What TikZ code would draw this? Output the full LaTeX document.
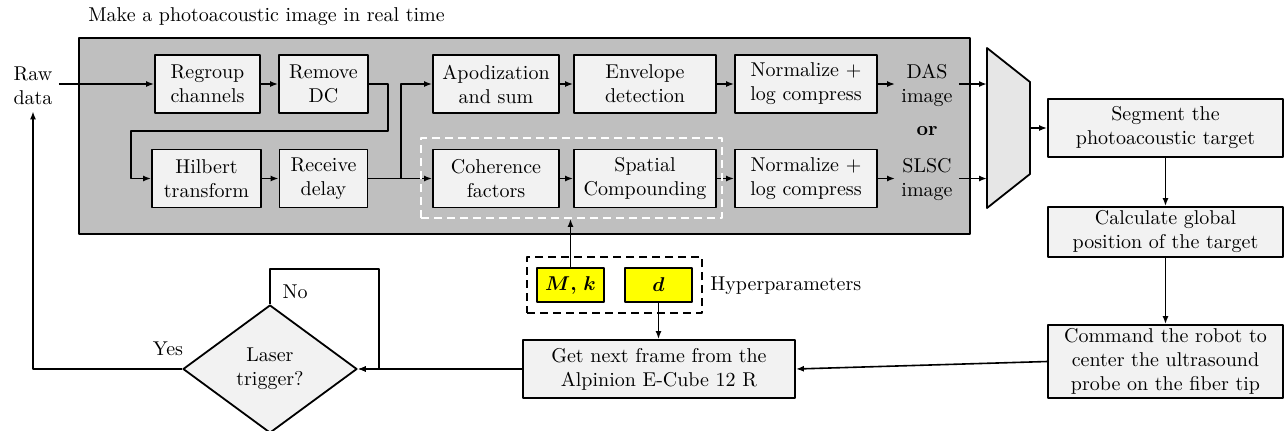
\documentclass[tikz,border=0pt]{standalone}
\usepackage{bm}
\usetikzlibrary{arrows.meta,shapes.geometric}
\newcommand{\Unit}{0.5pt}
\definecolor{panel}{HTML}{BFBFBF}
\definecolor{boxfill}{HTML}{F2F2F2}
\definecolor{muxfill}{HTML}{E6E6E6}
\definecolor{param}{HTML}{FFFF00}

\begin{document}
\begin{tikzpicture}[x=\Unit,y=-\Unit, line join=round,
  block/.style={draw, line width=0.9pt, fill=boxfill, align=center, inner sep=0pt, minimum height=58*\Unit},
  arr/.style={line width=0.8pt, -{Latex[length=4pt,width=3pt]}},
  label/.style={align=center, inner sep=3pt},
  hyperbox/.style={draw, line width=0.9pt, fill=param, inner sep=0pt, minimum width=67*\Unit, minimum height=34*\Unit}]

  \useasboundingbox (0,0) rectangle (1284,430);

  % ---- the real time panel ------------------------------------------------
  \filldraw[fill=panel, line width=0.9pt] (79,38) rectangle (970,234);
  \node[anchor=west, inner sep=0pt] (title) at (88,17) {Make a photoacoustic image in real time};
  \node[label] (raw) at (33,86) {Raw\\data};

  \node[block, minimum width=105*\Unit] (regroup) at (207.5,84) {Regroup\\channels};
  \node[block, minimum width=89*\Unit] (removedc) at (323.5,84) {Remove\\DC};
  \node[block, minimum width=109*\Unit] (hilbert) at (206.5,178.5) {Hilbert\\transform};
  \node[block, minimum width=88*\Unit] (delay) at (323.5,178.5) {Receive\\delay};

  \node[block, minimum width=126*\Unit] (apod) at (496,84) {Apodization\\and sum};
  \node[block, minimum width=142*\Unit] (envelope) at (645,84) {Envelope\\detection};
  \node[block, minimum width=142*\Unit] (normdas) at (806,84) {Normalize $+$\\log compress};
  \node[block, minimum width=126*\Unit] (coher) at (496,178.5) {Coherence\\factors};
  \node[block, minimum width=142*\Unit] (spatial) at (645,178.5) {Spatial\\Compounding};
  \node[block, minimum width=142*\Unit] (normslsc) at (806,178.5) {Normalize $+$\\log compress};

  \node[label] (das) at (927,85) {DAS\\image};
  \node[label, font=\bfseries] (or) at (927,131) {or};
  \node[label] (slsc) at (927,180) {SLSC\\image};

  \coordinate (bendr) at (388,131);
  \coordinate (bendl) at (131,131);
  \coordinate (split) at (401,178.5);

  \draw[arr] (raw.east |- regroup.west) -- (regroup.west);
  \draw[arr] (regroup.east) -- (removedc.west);
  \draw[arr] (removedc.east) -| (bendr) -- (bendl) |- (hilbert.west);
  \draw[arr] (hilbert.east) -- (delay.west);
  \draw[arr] (delay.east) -- (coher.west);
  \draw[arr] (split) |- (apod.west);
  \draw[arr] (apod.east) -- (envelope.west);
  \draw[arr] (envelope.east) -- (normdas.west);
  \draw[arr] (coher.east) -- (spatial.west);
  \draw[arr] (spatial.east) -- (normslsc.west);
  \draw[arr] (normdas.east) -- (normdas.east -| das.west);
  \draw[arr] (normslsc.east) -- (normslsc.east -| slsc.west);

  % the coherence part, tuned by the hyperparameters
  \node[draw=white, line width=0.9pt, dash pattern=on 4pt off 2.5pt, inner sep=0pt,
        minimum width=301*\Unit, minimum height=80*\Unit] (cfbox) at (571.5,178) {};

  % ---- selector --------------------------------------------------------------
  \coordinate (muxa) at (987,48);
  \coordinate (muxb) at (1030,82);
  \coordinate (muxc) at (1030,174);
  \coordinate (muxd) at (987,208);
  \coordinate (muxout) at (1030,128);
  \filldraw[fill=muxfill, line width=0.9pt] (muxa) -- (muxb) -- (muxc) -- (muxd) -- cycle;
  \draw[arr] (das.east |- normdas.east) -- (normdas.east -| muxa);
  \draw[arr] (slsc.east |- normslsc.east) -- (normslsc.east -| muxa);

  % ---- robot side --------------------------------------------------------------
  \node[block, minimum width=235*\Unit] (segment) at (1165.5,128) {Segment the\\photoacoustic target};
  \node[block, minimum width=235*\Unit, minimum height=50*\Unit] (calc) at (1165.5,232) {Calculate global\\position of the target};
  \node[block, minimum width=235*\Unit, minimum height=73*\Unit] (command) at (1165.5,361.5) {Command the robot to\\center the ultrasound\\probe on the fiber tip};
  \draw[arr] (muxout) -- (segment.west);
  \draw[arr] (segment.south) -- (calc.north);
  \draw[arr] (calc.south) -- (command.north);

  % ---- acquisition loop ----------------------------------------------------------
  \node[draw, line width=1.1pt, dash pattern=on 4pt off 2.5pt, inner sep=0pt,
        minimum width=175*\Unit, minimum height=56*\Unit] (hyper) at (614.5,285) {};
  \node[hyperbox] (mk) at (570.5,285) {$\bm{M}$\textbf{,} $\bm{k}$};
  \node[hyperbox] (dd) at (658.5,285) {$\bm{d}$};
  \node[anchor=west, inner sep=0pt] (hyperlabel) at (710,286) {Hyperparameters};

  \node[block, minimum width=272*\Unit] (getframe) at (659,369) {Get next frame from the\\Alpinion E-Cube 12 R};
  \node[diamond, draw, line width=0.9pt, fill=boxfill, align=center, inner sep=0pt,
        minimum width=174*\Unit, minimum height=128*\Unit] (trigger) at (270,369) {Laser\\trigger?};
  \node (yes) at (168,349) {Yes};
  \node (no) at (295,292) {No};
  \coordinate (noturn) at (379,269);

  \draw[arr] (mk.north) -- (mk.north |- cfbox.south);
  \draw[arr] (dd.south) -- (dd.south |- getframe.north);
  \draw[arr] (command.west) -- (getframe.east);
  \draw[arr] (getframe.west) -- (trigger.east);
  \draw[arr] (trigger.north) |- (noturn) |- (trigger.east);
  \draw[arr] (trigger.west) -| (raw.south);

\end{tikzpicture}
\end{document}
